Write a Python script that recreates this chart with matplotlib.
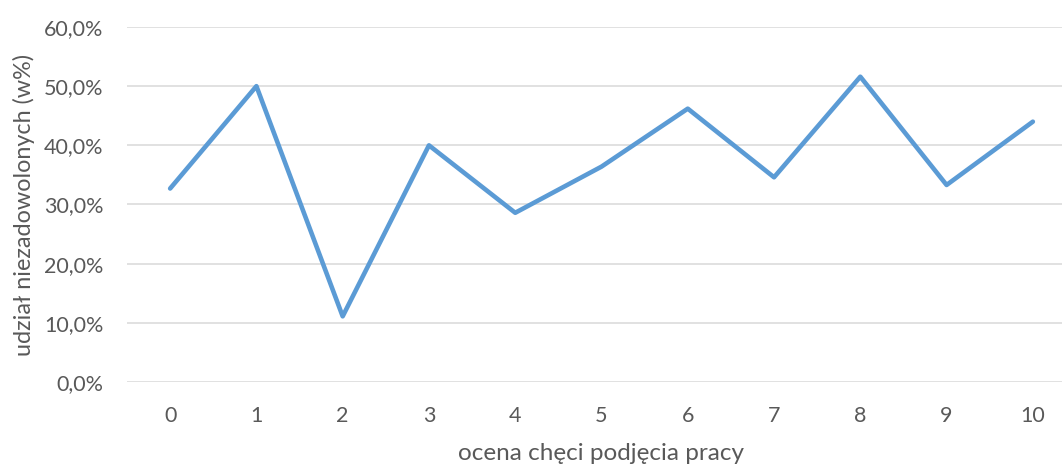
import matplotlib
matplotlib.use("Agg")
import matplotlib.pyplot as plt
from matplotlib.ticker import FuncFormatter

categories = ["0", "1", "2", "3", "4", "5", "6", "7", "8", "9", "10"]
values = [32.7, 50.0, 11.1, 40.0, 28.6, 36.4, 46.2, 34.6, 51.6, 33.3, 44.0]
y_ticks = [0, 10, 20, 30, 40, 50, 60]

plt.rcParams['font.family'] = ['Lato', 'DejaVu Sans']
text_color = "#595959"

W, H = 1062, 465
fig = plt.figure(figsize=(W / 100, H / 100), dpi=100)
left, right, bottom, top = 127, 1076, 382, 27
ax = fig.add_axes([left / W, (H - bottom) / H, (right - left) / W, (bottom - top) / H])

x = list(range(len(categories)))
ax.plot(x, values, color="#5B9BD5", linewidth=3.3, solid_joinstyle="round",
        solid_capstyle="round", zorder=3)

ax.set_xlim(-0.5, len(categories) - 0.5)
ax.set_ylim(0, 60)
ax.set_yticks(y_ticks)
ax.yaxis.set_major_formatter(FuncFormatter(lambda v, p: f"{v:.1f}%".replace(".", ",")))
ax.set_xticks(x)
ax.set_xticklabels(categories)
ax.grid(axis="y", color="#D9D9D9", linewidth=1.1, zorder=0)
ax.set_axisbelow(True)
for s in ax.spines.values():
    s.set_visible(False)
ax.tick_params(axis="both", length=0, colors=text_color, labelsize=15.5)
ax.tick_params(axis="y", pad=17)
ax.tick_params(axis="x", pad=17)

ax.set_ylabel("udział niezadowolonych (w%)", color=text_color, fontsize=16.8)
ax.yaxis.set_label_coords(-103 / (right - left), 0.5)
ax.set_xlabel("ocena chęci podjęcia pracy", color=text_color, fontsize=17.5)
ax.xaxis.set_label_coords((601 - left) / (right - left), -(453 - bottom) / (bottom - top))
ax.xaxis.label.set_va("center")
ax.yaxis.label.set_va("center")

fig.savefig("out.png", dpi=100)
